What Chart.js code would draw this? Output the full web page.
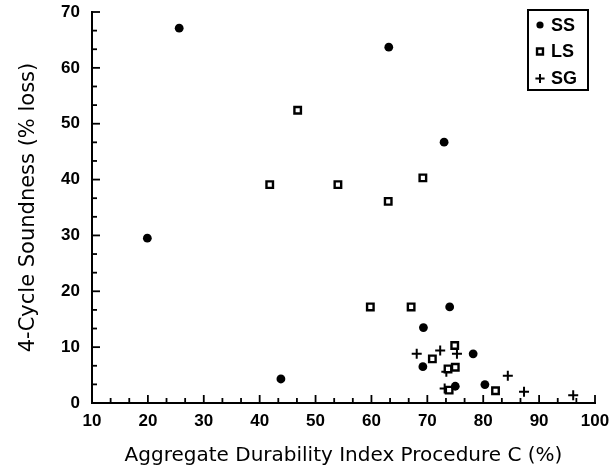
<!DOCTYPE html>
<html><head><meta charset="utf-8">
<script src="https://cdn.jsdelivr.net/npm/chart.js@4.4.1/dist/chart.umd.min.js"></script>
<style>html,body{margin:0;padding:0;background:#fff;}#wrap{width:612px;height:474px;}</style>
</head><body><div id="wrap"><canvas id="c" width="612" height="474"></canvas></div>
<script>
// ---- data ----
const seriesNames = ['SS', 'LS', 'SG'];
const ssX = [25.6, 19.9, 43.8, 63.1, 73.0, 74.0, 69.3, 78.2, 69.2, 75.0, 80.3];
const ssY = [67.1, 29.5, 4.3, 63.7, 46.7, 17.2, 13.5, 8.8, 6.5, 3.0, 3.3];
const lsX = [46.8, 41.8, 54.0, 63.0, 69.2, 59.8, 67.1, 74.9, 70.9, 75.0, 73.7, 73.9, 82.2];
const lsY = [52.4, 39.1, 39.1, 36.1, 40.3, 17.2, 17.2, 10.3, 7.9, 6.4, 6.1, 2.3, 2.2];
const sgX = [68.1, 72.3, 75.3, 73.4, 73.1, 84.4, 87.3, 96.1];
const sgY = [8.8, 9.4, 8.8, 5.6, 2.6, 4.9, 2.0, 1.4];
const xRange = [10, 100];
const yRange = [0, 70];
const majorStep = 10;
const minorPerMajor = 3;
const xTitle = 'Aggregate Durability Index Procedure C (%)';
const yTitle = '4-Cycle Soundness (% loss)';

const toPts = (xs, ys) => xs.map((x, i) => ({x: x, y: ys[i]}));

const styles = [
  {pointStyle: 'circle', radius: 4.4, backgroundColor: '#000', borderColor: '#000', borderWidth: 0},
  {pointStyle: 'rect', radius: 4.6, backgroundColor: '#fff', borderColor: '#000', borderWidth: 2.4},
  {pointStyle: 'cross', radius: 5, backgroundColor: '#000', borderColor: '#000', borderWidth: 2}
];

// inward minor/major ticks drawn from the scales
const inTicks = {
  id: 'inTicks',
  beforeDatasetsDraw(chart) {
    const ctx = chart.ctx, xs = chart.scales.x, ys = chart.scales.y;
    const ca = chart.chartArea;
    ctx.save();
    ctx.strokeStyle = '#000';
    ctx.lineWidth = 1.8;
    const step = majorStep / minorPerMajor;
    const nx = Math.round((xRange[1] - xRange[0]) / step);
    for (let i = 0; i <= nx; i++) {
      const v = xRange[0] + i * step;
      const px = xs.getPixelForValue(v);
      const len = (i % minorPerMajor === 0) ? 8 : 5;
      ctx.beginPath(); ctx.moveTo(px, ca.bottom); ctx.lineTo(px, ca.bottom - len); ctx.stroke();
    }
    const ny = Math.round((yRange[1] - yRange[0]) / step);
    for (let i = 0; i <= ny; i++) {
      const v = yRange[0] + i * step;
      const py = ys.getPixelForValue(v);
      const len = (i % minorPerMajor === 0) ? 8 : 5;
      ctx.beginPath(); ctx.moveTo(ca.left, py); ctx.lineTo(ca.left + len, py); ctx.stroke();
    }
    ctx.restore();
  }
};

// boxed legend inside the plot
const boxLegend = {
  id: 'boxLegend',
  afterDraw(chart) {
    const ctx = chart.ctx, ca = chart.chartArea;
    const right = ca.right - 7, top = ca.top - 2;
    const w = 60, h = 80;
    const left = right - w;
    ctx.save();
    ctx.strokeStyle = '#000';
    ctx.lineWidth = 2;
    ctx.strokeRect(left, top, w, h);
    const rowsY = [15, 41.5, 68.5];
    const radii = [3.6, 4.2, 4.6];
    chart.data.datasets.forEach((ds, i) => {
      const y = top + rowsY[i];
      const st = styles[i];
      ctx.save();
      ctx.fillStyle = st.backgroundColor;
      ctx.strokeStyle = st.borderColor;
      ctx.lineWidth = st.borderWidth;
      Chart.helpers.drawPoint(ctx, {pointStyle: st.pointStyle, radius: radii[i], rotation: 0, borderWidth: st.borderWidth}, left + 12, y);
      ctx.restore();
      ctx.font = 'bold 18px "Liberation Sans", Arial, sans-serif';
      ctx.fillStyle = '#000';
      ctx.textBaseline = 'middle';
      ctx.textAlign = 'left';
      ctx.fillText(ds.label, left + 23, y + 1);
    });
    ctx.restore();
  }
};

const tickFont = {family: '"Liberation Sans", Arial, sans-serif', size: 17, weight: 'bold'};

new Chart(document.getElementById('c'), {
  type: 'scatter',
  data: {
    datasets: [
      Object.assign({label: seriesNames[0], data: toPts(ssX, ssY)}, styles[0]),
      Object.assign({label: seriesNames[1], data: toPts(lsX, lsY)}, styles[1]),
      Object.assign({label: seriesNames[2], data: toPts(sgX, sgY)}, styles[2])
    ]
  },
  options: {
    responsive: false,
    animation: false,
    devicePixelRatio: 1,
    layout: {padding: {top: 12, right: 17, left: 0, bottom: 0}},
    plugins: {legend: {display: false}, tooltip: {enabled: false}},
    elements: {point: {hoverRadius: 5}},
    scales: {
      x: {
        type: 'linear', min: xRange[0], max: xRange[1],
        grid: {display: false, drawTicks: false},
        border: {display: true, width: 2, color: '#000'},
        ticks: {stepSize: majorStep, font: tickFont, color: '#000', padding: 8, maxRotation: 0},
        title: {display: true, text: xTitle, color: '#000',
                font: {family: '"DejaVu Sans", sans-serif', size: 20, weight: 'normal'},
                padding: {top: 0, bottom: 6}},
        afterFit(s) { s.height = 71; s.paddingLeft = 0; s.paddingRight = 0; }
      },
      y: {
        type: 'linear', min: yRange[0], max: yRange[1],
        grid: {display: false, drawTicks: false},
        border: {display: true, width: 2, color: '#000'},
        ticks: {stepSize: majorStep, font: tickFont, color: '#000', padding: 12},
        title: {display: true, text: yTitle, color: '#000',
                font: {family: '"DejaVu Sans", sans-serif', size: 21, weight: 'normal'},
                padding: {top: 16, bottom: 0}},
        afterFit(s) { s.width = 92; s.paddingTop = 0; s.paddingBottom = 0; }
      }
    }
  },
  plugins: [inTicks, boxLegend]
});
</script>
</body></html>
